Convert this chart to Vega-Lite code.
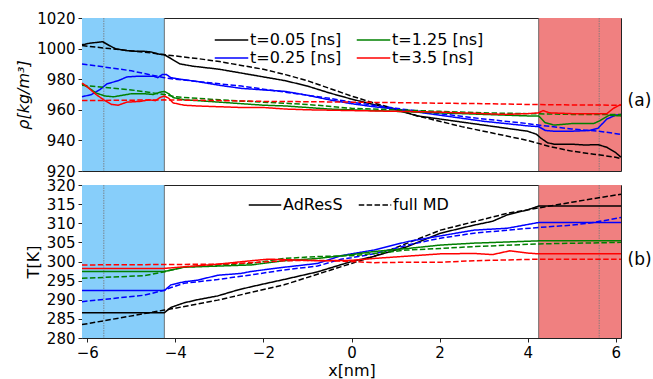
{
  "$schema": "https://vega.github.io/schema/vega-lite/v6.json",
  "background": "white",
  "padding": {"left": 14, "top": 10, "right": 0, "bottom": 0},
  "spacing": 14,
  "bounds": "flush",
  "config": {
    "font": "DejaVu Sans",
    "view": {"stroke": "#222", "strokeWidth": 1},
    "axis": {"grid": false, "domain": false, "labelFont": "DejaVu Sans", "labelFontSize": 15, "labelColor": "black", "tickColor": "#222", "tickSize": 4, "labelPadding": 3, "labelOverlap": false, "labelFlush": false, "titleFont": "DejaVu Sans", "titleFontSize": 16, "titleFontWeight": "normal", "titleColor": "black"},
    "axisY": {"labelOverlap": false},
    "axisQuantitative": {"labelOverlap": false},
    "legend": {"labelFont": "DejaVu Sans", "labelFontSize": 16, "labelColor": "black"}
  },
  "resolve": {"scale": {"x": "independent", "y": "independent", "color": "independent", "strokeDash": "independent"}, "legend": {"color": "independent", "strokeDash": "independent"}},
  "datasets": {
    "rho": [
      {"t":"t=0.05 [ns]","k":"AdResS","x":-6.12,"v":1002.5},{"t":"t=0.05 [ns]","k":"AdResS","x":-5.95,"v":1003.5},{"t":"t=0.05 [ns]","k":"AdResS","x":-5.8,"v":1004},{"t":"t=0.05 [ns]","k":"AdResS","x":-5.65,"v":1004.5},{"t":"t=0.05 [ns]","k":"AdResS","x":-5.5,"v":1002},{"t":"t=0.05 [ns]","k":"AdResS","x":-5.35,"v":999.8},{"t":"t=0.05 [ns]","k":"AdResS","x":-5.1,"v":998.7},{"t":"t=0.05 [ns]","k":"AdResS","x":-4.9,"v":998.3},{"t":"t=0.05 [ns]","k":"AdResS","x":-4.7,"v":998.2},{"t":"t=0.05 [ns]","k":"AdResS","x":-4.55,"v":997.8},{"t":"t=0.05 [ns]","k":"AdResS","x":-4.4,"v":996.5},{"t":"t=0.05 [ns]","k":"AdResS","x":-4.25,"v":996},{"t":"t=0.05 [ns]","k":"AdResS","x":-4.1,"v":993.5},{"t":"t=0.05 [ns]","k":"AdResS","x":-3.9,"v":990},{"t":"t=0.05 [ns]","k":"AdResS","x":-3.6,"v":988.5},{"t":"t=0.05 [ns]","k":"AdResS","x":-3.0,"v":986.5},{"t":"t=0.05 [ns]","k":"AdResS","x":-2.5,"v":984},{"t":"t=0.05 [ns]","k":"AdResS","x":-2.0,"v":981.5},{"t":"t=0.05 [ns]","k":"AdResS","x":-1.5,"v":979},{"t":"t=0.05 [ns]","k":"AdResS","x":-1.0,"v":975.5},{"t":"t=0.05 [ns]","k":"AdResS","x":-0.5,"v":971},{"t":"t=0.05 [ns]","k":"AdResS","x":0,"v":967},{"t":"t=0.05 [ns]","k":"AdResS","x":0.5,"v":963.5},{"t":"t=0.05 [ns]","k":"AdResS","x":1,"v":960},{"t":"t=0.05 [ns]","k":"AdResS","x":1.5,"v":956},{"t":"t=0.05 [ns]","k":"AdResS","x":2,"v":954},{"t":"t=0.05 [ns]","k":"AdResS","x":2.5,"v":952},{"t":"t=0.05 [ns]","k":"AdResS","x":3,"v":950},{"t":"t=0.05 [ns]","k":"AdResS","x":3.5,"v":948},{"t":"t=0.05 [ns]","k":"AdResS","x":4,"v":946},{"t":"t=0.05 [ns]","k":"AdResS","x":4.2,"v":944},{"t":"t=0.05 [ns]","k":"AdResS","x":4.3,"v":941.5},{"t":"t=0.05 [ns]","k":"AdResS","x":4.45,"v":938.5},{"t":"t=0.05 [ns]","k":"AdResS","x":4.6,"v":937.5},{"t":"t=0.05 [ns]","k":"AdResS","x":5.0,"v":937.5},{"t":"t=0.05 [ns]","k":"AdResS","x":5.3,"v":937},{"t":"t=0.05 [ns]","k":"AdResS","x":5.6,"v":937.2},{"t":"t=0.05 [ns]","k":"AdResS","x":5.8,"v":935.5},{"t":"t=0.05 [ns]","k":"AdResS","x":6.0,"v":932},{"t":"t=0.05 [ns]","k":"AdResS","x":6.12,"v":929},
      {"t":"t=0.05 [ns]","k":"full MD","x":-6.12,"v":1002},{"t":"t=0.05 [ns]","k":"full MD","x":-5.5,"v":1000},{"t":"t=0.05 [ns]","k":"full MD","x":-5,"v":998.5},{"t":"t=0.05 [ns]","k":"full MD","x":-4.5,"v":997},{"t":"t=0.05 [ns]","k":"full MD","x":-4.25,"v":996},{"t":"t=0.05 [ns]","k":"full MD","x":-3.5,"v":993.5},{"t":"t=0.05 [ns]","k":"full MD","x":-3,"v":991.5},{"t":"t=0.05 [ns]","k":"full MD","x":-2.5,"v":989},{"t":"t=0.05 [ns]","k":"full MD","x":-2,"v":986.5},{"t":"t=0.05 [ns]","k":"full MD","x":-1.5,"v":983},{"t":"t=0.05 [ns]","k":"full MD","x":-1,"v":979},{"t":"t=0.05 [ns]","k":"full MD","x":-0.5,"v":974},{"t":"t=0.05 [ns]","k":"full MD","x":0,"v":969},{"t":"t=0.05 [ns]","k":"full MD","x":0.5,"v":964.5},{"t":"t=0.05 [ns]","k":"full MD","x":1,"v":960.5},{"t":"t=0.05 [ns]","k":"full MD","x":1.5,"v":956},{"t":"t=0.05 [ns]","k":"full MD","x":2,"v":952.5},{"t":"t=0.05 [ns]","k":"full MD","x":2.5,"v":949},{"t":"t=0.05 [ns]","k":"full MD","x":3,"v":946},{"t":"t=0.05 [ns]","k":"full MD","x":3.5,"v":943},{"t":"t=0.05 [ns]","k":"full MD","x":4,"v":940},{"t":"t=0.05 [ns]","k":"full MD","x":4.5,"v":936},{"t":"t=0.05 [ns]","k":"full MD","x":5,"v":933},{"t":"t=0.05 [ns]","k":"full MD","x":5.5,"v":931},{"t":"t=0.05 [ns]","k":"full MD","x":6,"v":929},{"t":"t=0.05 [ns]","k":"full MD","x":6.12,"v":928},
      {"t":"t=0.25 [ns]","k":"AdResS","x":-6.12,"v":968.5},{"t":"t=0.25 [ns]","k":"AdResS","x":-5.9,"v":970},{"t":"t=0.25 [ns]","k":"AdResS","x":-5.7,"v":973.5},{"t":"t=0.25 [ns]","k":"AdResS","x":-5.55,"v":977},{"t":"t=0.25 [ns]","k":"AdResS","x":-5.3,"v":979},{"t":"t=0.25 [ns]","k":"AdResS","x":-5.1,"v":981.5},{"t":"t=0.25 [ns]","k":"AdResS","x":-4.8,"v":982},{"t":"t=0.25 [ns]","k":"AdResS","x":-4.5,"v":982},{"t":"t=0.25 [ns]","k":"AdResS","x":-4.4,"v":981},{"t":"t=0.25 [ns]","k":"AdResS","x":-4.3,"v":983},{"t":"t=0.25 [ns]","k":"AdResS","x":-4.2,"v":983},{"t":"t=0.25 [ns]","k":"AdResS","x":-4.1,"v":981},{"t":"t=0.25 [ns]","k":"AdResS","x":-3.9,"v":980},{"t":"t=0.25 [ns]","k":"AdResS","x":-3.5,"v":978.5},{"t":"t=0.25 [ns]","k":"AdResS","x":-3,"v":976},{"t":"t=0.25 [ns]","k":"AdResS","x":-2.5,"v":974},{"t":"t=0.25 [ns]","k":"AdResS","x":-2,"v":973},{"t":"t=0.25 [ns]","k":"AdResS","x":-1.5,"v":972},{"t":"t=0.25 [ns]","k":"AdResS","x":-1,"v":969.5},{"t":"t=0.25 [ns]","k":"AdResS","x":-0.5,"v":966.5},{"t":"t=0.25 [ns]","k":"AdResS","x":0,"v":964},{"t":"t=0.25 [ns]","k":"AdResS","x":0.5,"v":962},{"t":"t=0.25 [ns]","k":"AdResS","x":1,"v":960.5},{"t":"t=0.25 [ns]","k":"AdResS","x":1.5,"v":958.5},{"t":"t=0.25 [ns]","k":"AdResS","x":2,"v":956.5},{"t":"t=0.25 [ns]","k":"AdResS","x":2.5,"v":954.5},{"t":"t=0.25 [ns]","k":"AdResS","x":3,"v":952.5},{"t":"t=0.25 [ns]","k":"AdResS","x":3.5,"v":951},{"t":"t=0.25 [ns]","k":"AdResS","x":4,"v":949.5},{"t":"t=0.25 [ns]","k":"AdResS","x":4.25,"v":949},{"t":"t=0.25 [ns]","k":"AdResS","x":4.4,"v":946.5},{"t":"t=0.25 [ns]","k":"AdResS","x":4.6,"v":946},{"t":"t=0.25 [ns]","k":"AdResS","x":5,"v":946},{"t":"t=0.25 [ns]","k":"AdResS","x":5.4,"v":946.5},{"t":"t=0.25 [ns]","k":"AdResS","x":5.6,"v":948},{"t":"t=0.25 [ns]","k":"AdResS","x":5.8,"v":954},{"t":"t=0.25 [ns]","k":"AdResS","x":6.0,"v":956.5},{"t":"t=0.25 [ns]","k":"AdResS","x":6.12,"v":957},
      {"t":"t=0.25 [ns]","k":"full MD","x":-6.12,"v":990},{"t":"t=0.25 [ns]","k":"full MD","x":-5.5,"v":987.5},{"t":"t=0.25 [ns]","k":"full MD","x":-5,"v":985.5},{"t":"t=0.25 [ns]","k":"full MD","x":-4.5,"v":982.5},{"t":"t=0.25 [ns]","k":"full MD","x":-4.25,"v":981},{"t":"t=0.25 [ns]","k":"full MD","x":-4,"v":980},{"t":"t=0.25 [ns]","k":"full MD","x":-3.5,"v":978.5},{"t":"t=0.25 [ns]","k":"full MD","x":-3,"v":977},{"t":"t=0.25 [ns]","k":"full MD","x":-2.5,"v":975.5},{"t":"t=0.25 [ns]","k":"full MD","x":-2,"v":973.5},{"t":"t=0.25 [ns]","k":"full MD","x":-1.5,"v":971.5},{"t":"t=0.25 [ns]","k":"full MD","x":-1,"v":969.5},{"t":"t=0.25 [ns]","k":"full MD","x":-0.5,"v":967.5},{"t":"t=0.25 [ns]","k":"full MD","x":0,"v":965},{"t":"t=0.25 [ns]","k":"full MD","x":1,"v":961},{"t":"t=0.25 [ns]","k":"full MD","x":2,"v":957.5},{"t":"t=0.25 [ns]","k":"full MD","x":3,"v":954},{"t":"t=0.25 [ns]","k":"full MD","x":4,"v":951},{"t":"t=0.25 [ns]","k":"full MD","x":4.25,"v":950},{"t":"t=0.25 [ns]","k":"full MD","x":5,"v":947.5},{"t":"t=0.25 [ns]","k":"full MD","x":5.6,"v":946},{"t":"t=0.25 [ns]","k":"full MD","x":6.12,"v":944},
      {"t":"t=1.25 [ns]","k":"AdResS","x":-6.12,"v":977},{"t":"t=1.25 [ns]","k":"AdResS","x":-6.0,"v":975},{"t":"t=1.25 [ns]","k":"AdResS","x":-5.8,"v":971},{"t":"t=1.25 [ns]","k":"AdResS","x":-5.6,"v":969},{"t":"t=1.25 [ns]","k":"AdResS","x":-5.4,"v":968.5},{"t":"t=1.25 [ns]","k":"AdResS","x":-5.2,"v":969.5},{"t":"t=1.25 [ns]","k":"AdResS","x":-5.0,"v":970.5},{"t":"t=1.25 [ns]","k":"AdResS","x":-4.7,"v":970.5},{"t":"t=1.25 [ns]","k":"AdResS","x":-4.5,"v":970},{"t":"t=1.25 [ns]","k":"AdResS","x":-4.35,"v":971.5},{"t":"t=1.25 [ns]","k":"AdResS","x":-4.25,"v":972},{"t":"t=1.25 [ns]","k":"AdResS","x":-4.15,"v":970.5},{"t":"t=1.25 [ns]","k":"AdResS","x":-4.05,"v":968},{"t":"t=1.25 [ns]","k":"AdResS","x":-3.8,"v":966.5},{"t":"t=1.25 [ns]","k":"AdResS","x":-3.5,"v":966},{"t":"t=1.25 [ns]","k":"AdResS","x":-3,"v":965},{"t":"t=1.25 [ns]","k":"AdResS","x":-2.5,"v":964},{"t":"t=1.25 [ns]","k":"AdResS","x":-2,"v":963},{"t":"t=1.25 [ns]","k":"AdResS","x":-1.5,"v":962.5},{"t":"t=1.25 [ns]","k":"AdResS","x":-1,"v":961.5},{"t":"t=1.25 [ns]","k":"AdResS","x":-0.5,"v":960.5},{"t":"t=1.25 [ns]","k":"AdResS","x":0,"v":960},{"t":"t=1.25 [ns]","k":"AdResS","x":1,"v":959},{"t":"t=1.25 [ns]","k":"AdResS","x":2,"v":958},{"t":"t=1.25 [ns]","k":"AdResS","x":3,"v":957},{"t":"t=1.25 [ns]","k":"AdResS","x":4,"v":956},{"t":"t=1.25 [ns]","k":"AdResS","x":4.25,"v":956},{"t":"t=1.25 [ns]","k":"AdResS","x":4.4,"v":951.5},{"t":"t=1.25 [ns]","k":"AdResS","x":4.6,"v":950},{"t":"t=1.25 [ns]","k":"AdResS","x":5,"v":951},{"t":"t=1.25 [ns]","k":"AdResS","x":5.5,"v":951},{"t":"t=1.25 [ns]","k":"AdResS","x":5.65,"v":953},{"t":"t=1.25 [ns]","k":"AdResS","x":5.85,"v":956.5},{"t":"t=1.25 [ns]","k":"AdResS","x":6.12,"v":956},
      {"t":"t=1.25 [ns]","k":"full MD","x":-6.12,"v":976},{"t":"t=1.25 [ns]","k":"full MD","x":-5,"v":973},{"t":"t=1.25 [ns]","k":"full MD","x":-4.25,"v":970},{"t":"t=1.25 [ns]","k":"full MD","x":-4,"v":968.5},{"t":"t=1.25 [ns]","k":"full MD","x":-3,"v":966.5},{"t":"t=1.25 [ns]","k":"full MD","x":-2,"v":965},{"t":"t=1.25 [ns]","k":"full MD","x":-1,"v":963.5},{"t":"t=1.25 [ns]","k":"full MD","x":0,"v":961},{"t":"t=1.25 [ns]","k":"full MD","x":1,"v":960},{"t":"t=1.25 [ns]","k":"full MD","x":2,"v":959},{"t":"t=1.25 [ns]","k":"full MD","x":3,"v":958},{"t":"t=1.25 [ns]","k":"full MD","x":4,"v":957.5},{"t":"t=1.25 [ns]","k":"full MD","x":5,"v":957},{"t":"t=1.25 [ns]","k":"full MD","x":6.12,"v":957},
      {"t":"t=3.5 [ns]","k":"AdResS","x":-6.12,"v":977.5},{"t":"t=3.5 [ns]","k":"AdResS","x":-6.0,"v":975},{"t":"t=3.5 [ns]","k":"AdResS","x":-5.8,"v":970},{"t":"t=3.5 [ns]","k":"AdResS","x":-5.6,"v":966},{"t":"t=3.5 [ns]","k":"AdResS","x":-5.45,"v":963.5},{"t":"t=3.5 [ns]","k":"AdResS","x":-5.3,"v":963},{"t":"t=3.5 [ns]","k":"AdResS","x":-5.1,"v":965},{"t":"t=3.5 [ns]","k":"AdResS","x":-4.8,"v":965.5},{"t":"t=3.5 [ns]","k":"AdResS","x":-4.6,"v":966.5},{"t":"t=3.5 [ns]","k":"AdResS","x":-4.45,"v":966},{"t":"t=3.5 [ns]","k":"AdResS","x":-4.35,"v":968},{"t":"t=3.5 [ns]","k":"AdResS","x":-4.25,"v":969},{"t":"t=3.5 [ns]","k":"AdResS","x":-4.15,"v":967.5},{"t":"t=3.5 [ns]","k":"AdResS","x":-4.05,"v":964.5},{"t":"t=3.5 [ns]","k":"AdResS","x":-3.8,"v":963},{"t":"t=3.5 [ns]","k":"AdResS","x":-3.5,"v":962.5},{"t":"t=3.5 [ns]","k":"AdResS","x":-3,"v":962},{"t":"t=3.5 [ns]","k":"AdResS","x":-2.5,"v":961.5},{"t":"t=3.5 [ns]","k":"AdResS","x":-2,"v":961.5},{"t":"t=3.5 [ns]","k":"AdResS","x":-1.5,"v":960.5},{"t":"t=3.5 [ns]","k":"AdResS","x":-1,"v":960},{"t":"t=3.5 [ns]","k":"AdResS","x":0,"v":959.5},{"t":"t=3.5 [ns]","k":"AdResS","x":1,"v":959},{"t":"t=3.5 [ns]","k":"AdResS","x":2,"v":958.5},{"t":"t=3.5 [ns]","k":"AdResS","x":3,"v":957.5},{"t":"t=3.5 [ns]","k":"AdResS","x":3.5,"v":957},{"t":"t=3.5 [ns]","k":"AdResS","x":4,"v":957.5},{"t":"t=3.5 [ns]","k":"AdResS","x":4.25,"v":958},{"t":"t=3.5 [ns]","k":"AdResS","x":4.35,"v":959.5},{"t":"t=3.5 [ns]","k":"AdResS","x":4.5,"v":958},{"t":"t=3.5 [ns]","k":"AdResS","x":5,"v":957.5},{"t":"t=3.5 [ns]","k":"AdResS","x":5.5,"v":957.5},{"t":"t=3.5 [ns]","k":"AdResS","x":5.8,"v":957.5},{"t":"t=3.5 [ns]","k":"AdResS","x":5.95,"v":961},{"t":"t=3.5 [ns]","k":"AdResS","x":6.12,"v":963.5},
      {"t":"t=3.5 [ns]","k":"full MD","x":-6.12,"v":966},{"t":"t=3.5 [ns]","k":"full MD","x":-4.25,"v":966.5},{"t":"t=3.5 [ns]","k":"full MD","x":-3,"v":966},{"t":"t=3.5 [ns]","k":"full MD","x":-2,"v":965.5},{"t":"t=3.5 [ns]","k":"full MD","x":-1,"v":965.3},{"t":"t=3.5 [ns]","k":"full MD","x":0,"v":965},{"t":"t=3.5 [ns]","k":"full MD","x":1,"v":964.7},{"t":"t=3.5 [ns]","k":"full MD","x":2,"v":964.3},{"t":"t=3.5 [ns]","k":"full MD","x":3,"v":964},{"t":"t=3.5 [ns]","k":"full MD","x":4,"v":963.5},{"t":"t=3.5 [ns]","k":"full MD","x":5,"v":963.2},{"t":"t=3.5 [ns]","k":"full MD","x":6.12,"v":963}
    ],
    "T": [
      {"t":"t=0.05 [ns]","k":"AdResS","x":-6.12,"v":286.6},{"t":"t=0.05 [ns]","k":"AdResS","x":-4.25,"v":286.6},{"t":"t=0.05 [ns]","k":"AdResS","x":-4.1,"v":288},{"t":"t=0.05 [ns]","k":"AdResS","x":-3.8,"v":289.2},{"t":"t=0.05 [ns]","k":"AdResS","x":-3.5,"v":290},{"t":"t=0.05 [ns]","k":"AdResS","x":-3.04,"v":291},{"t":"t=0.05 [ns]","k":"AdResS","x":-2.6,"v":292.5},{"t":"t=0.05 [ns]","k":"AdResS","x":-2.28,"v":293.4},{"t":"t=0.05 [ns]","k":"AdResS","x":-1.53,"v":295.3},{"t":"t=0.05 [ns]","k":"AdResS","x":-0.77,"v":297.3},{"t":"t=0.05 [ns]","k":"AdResS","x":0,"v":300},{"t":"t=0.05 [ns]","k":"AdResS","x":0.5,"v":301.3},{"t":"t=0.05 [ns]","k":"AdResS","x":1.27,"v":303.9},{"t":"t=0.05 [ns]","k":"AdResS","x":2.02,"v":307.4},{"t":"t=0.05 [ns]","k":"AdResS","x":2.78,"v":309.5},{"t":"t=0.05 [ns]","k":"AdResS","x":3.2,"v":310.5},{"t":"t=0.05 [ns]","k":"AdResS","x":3.54,"v":312.2},{"t":"t=0.05 [ns]","k":"AdResS","x":4,"v":313.5},{"t":"t=0.05 [ns]","k":"AdResS","x":4.25,"v":314.5},{"t":"t=0.05 [ns]","k":"AdResS","x":6.12,"v":314.5},
      {"t":"t=0.05 [ns]","k":"full MD","x":-6.12,"v":283.5},{"t":"t=0.05 [ns]","k":"full MD","x":-4.25,"v":287.3},{"t":"t=0.05 [ns]","k":"full MD","x":-4,"v":287.8},{"t":"t=0.05 [ns]","k":"full MD","x":-3.04,"v":289.9},{"t":"t=0.05 [ns]","k":"full MD","x":-1.53,"v":293.9},{"t":"t=0.05 [ns]","k":"full MD","x":0,"v":299.5},{"t":"t=0.05 [ns]","k":"full MD","x":0.5,"v":301.3},{"t":"t=0.05 [ns]","k":"full MD","x":1.27,"v":304.8},{"t":"t=0.05 [ns]","k":"full MD","x":2.02,"v":308.2},{"t":"t=0.05 [ns]","k":"full MD","x":2.78,"v":310.4},{"t":"t=0.05 [ns]","k":"full MD","x":3.54,"v":312.6},{"t":"t=0.05 [ns]","k":"full MD","x":4.25,"v":314},{"t":"t=0.05 [ns]","k":"full MD","x":5,"v":315.5},{"t":"t=0.05 [ns]","k":"full MD","x":6.12,"v":317.6},
      {"t":"t=0.25 [ns]","k":"AdResS","x":-6.12,"v":292.4},{"t":"t=0.25 [ns]","k":"AdResS","x":-4.25,"v":292.4},{"t":"t=0.25 [ns]","k":"AdResS","x":-4.1,"v":293.9},{"t":"t=0.25 [ns]","k":"AdResS","x":-3.8,"v":294.7},{"t":"t=0.25 [ns]","k":"AdResS","x":-3.5,"v":295.1},{"t":"t=0.25 [ns]","k":"AdResS","x":-3.04,"v":296.4},{"t":"t=0.25 [ns]","k":"AdResS","x":-2.5,"v":296.9},{"t":"t=0.25 [ns]","k":"AdResS","x":-2.28,"v":297.4},{"t":"t=0.25 [ns]","k":"AdResS","x":-1.53,"v":298.5},{"t":"t=0.25 [ns]","k":"AdResS","x":-0.77,"v":299.5},{"t":"t=0.25 [ns]","k":"AdResS","x":-0.24,"v":301.5},{"t":"t=0.25 [ns]","k":"AdResS","x":0,"v":302},{"t":"t=0.25 [ns]","k":"AdResS","x":0.51,"v":303},{"t":"t=0.25 [ns]","k":"AdResS","x":1.27,"v":305.2},{"t":"t=0.25 [ns]","k":"AdResS","x":2.02,"v":306.7},{"t":"t=0.25 [ns]","k":"AdResS","x":2.78,"v":308.2},{"t":"t=0.25 [ns]","k":"AdResS","x":3.54,"v":308.7},{"t":"t=0.25 [ns]","k":"AdResS","x":4.25,"v":310.2},{"t":"t=0.25 [ns]","k":"AdResS","x":6.12,"v":310.2},
      {"t":"t=0.25 [ns]","k":"full MD","x":-6.12,"v":289.5},{"t":"t=0.25 [ns]","k":"full MD","x":-4.7,"v":291.2},{"t":"t=0.25 [ns]","k":"full MD","x":-4.25,"v":292.5},{"t":"t=0.25 [ns]","k":"full MD","x":-4.1,"v":293.2},{"t":"t=0.25 [ns]","k":"full MD","x":-3.8,"v":294.3},{"t":"t=0.25 [ns]","k":"full MD","x":-3.04,"v":295.3},{"t":"t=0.25 [ns]","k":"full MD","x":-2.28,"v":296.5},{"t":"t=0.25 [ns]","k":"full MD","x":-1.53,"v":297.8},{"t":"t=0.25 [ns]","k":"full MD","x":-0.77,"v":298.8},{"t":"t=0.25 [ns]","k":"full MD","x":-0.24,"v":300.6},{"t":"t=0.25 [ns]","k":"full MD","x":0,"v":301},{"t":"t=0.25 [ns]","k":"full MD","x":0.51,"v":302},{"t":"t=0.25 [ns]","k":"full MD","x":1.27,"v":304.3},{"t":"t=0.25 [ns]","k":"full MD","x":2.02,"v":306.1},{"t":"t=0.25 [ns]","k":"full MD","x":2.78,"v":307.4},{"t":"t=0.25 [ns]","k":"full MD","x":3.54,"v":308.2},{"t":"t=0.25 [ns]","k":"full MD","x":4.25,"v":308.9},{"t":"t=0.25 [ns]","k":"full MD","x":5,"v":309.5},{"t":"t=0.25 [ns]","k":"full MD","x":5.5,"v":310.2},{"t":"t=0.25 [ns]","k":"full MD","x":6.12,"v":311.5},
      {"t":"t=1.25 [ns]","k":"AdResS","x":-6.12,"v":297.4},{"t":"t=1.25 [ns]","k":"AdResS","x":-4.25,"v":297.4},{"t":"t=1.25 [ns]","k":"AdResS","x":-3.8,"v":298.5},{"t":"t=1.25 [ns]","k":"AdResS","x":-3.04,"v":298.8},{"t":"t=1.25 [ns]","k":"AdResS","x":-2.28,"v":299.1},{"t":"t=1.25 [ns]","k":"AdResS","x":-1.53,"v":300.2},{"t":"t=1.25 [ns]","k":"AdResS","x":-0.77,"v":300.8},{"t":"t=1.25 [ns]","k":"AdResS","x":0,"v":301.8},{"t":"t=1.25 [ns]","k":"AdResS","x":0.51,"v":302.6},{"t":"t=1.25 [ns]","k":"AdResS","x":1.27,"v":303.4},{"t":"t=1.25 [ns]","k":"AdResS","x":2.02,"v":304.3},{"t":"t=1.25 [ns]","k":"AdResS","x":2.78,"v":304.8},{"t":"t=1.25 [ns]","k":"AdResS","x":4.25,"v":305.4},{"t":"t=1.25 [ns]","k":"AdResS","x":6.12,"v":305.4},
      {"t":"t=1.25 [ns]","k":"full MD","x":-6.12,"v":295.6},{"t":"t=1.25 [ns]","k":"full MD","x":-4.7,"v":296.3},{"t":"t=1.25 [ns]","k":"full MD","x":-4.25,"v":297.3},{"t":"t=1.25 [ns]","k":"full MD","x":-3.8,"v":298.6},{"t":"t=1.25 [ns]","k":"full MD","x":-2.28,"v":299.5},{"t":"t=1.25 [ns]","k":"full MD","x":-1.53,"v":300.8},{"t":"t=1.25 [ns]","k":"full MD","x":-0.77,"v":301.3},{"t":"t=1.25 [ns]","k":"full MD","x":0,"v":301.5},{"t":"t=1.25 [ns]","k":"full MD","x":0.51,"v":302.1},{"t":"t=1.25 [ns]","k":"full MD","x":1.27,"v":303},{"t":"t=1.25 [ns]","k":"full MD","x":2.02,"v":303.4},{"t":"t=1.25 [ns]","k":"full MD","x":2.78,"v":303.9},{"t":"t=1.25 [ns]","k":"full MD","x":4.25,"v":304.6},{"t":"t=1.25 [ns]","k":"full MD","x":6.12,"v":305},
      {"t":"t=3.5 [ns]","k":"AdResS","x":-6.12,"v":298.2},{"t":"t=3.5 [ns]","k":"AdResS","x":-4.25,"v":298.2},{"t":"t=3.5 [ns]","k":"AdResS","x":-3.8,"v":298.6},{"t":"t=3.5 [ns]","k":"AdResS","x":-3.04,"v":299.3},{"t":"t=3.5 [ns]","k":"AdResS","x":-2.28,"v":300.2},{"t":"t=3.5 [ns]","k":"AdResS","x":-1.9,"v":300.6},{"t":"t=3.5 [ns]","k":"AdResS","x":-1.53,"v":300.5},{"t":"t=3.5 [ns]","k":"AdResS","x":-0.77,"v":300.2},{"t":"t=3.5 [ns]","k":"AdResS","x":0,"v":300.3},{"t":"t=3.5 [ns]","k":"AdResS","x":0.51,"v":300.8},{"t":"t=3.5 [ns]","k":"AdResS","x":1.27,"v":301.4},{"t":"t=3.5 [ns]","k":"AdResS","x":2.02,"v":302},{"t":"t=3.5 [ns]","k":"AdResS","x":2.78,"v":302.1},{"t":"t=3.5 [ns]","k":"AdResS","x":3.2,"v":301.8},{"t":"t=3.5 [ns]","k":"AdResS","x":3.6,"v":302.8},{"t":"t=3.5 [ns]","k":"AdResS","x":4.0,"v":302.2},{"t":"t=3.5 [ns]","k":"AdResS","x":4.25,"v":302},{"t":"t=3.5 [ns]","k":"AdResS","x":6.12,"v":302},
      {"t":"t=3.5 [ns]","k":"full MD","x":-6.12,"v":299.1},{"t":"t=3.5 [ns]","k":"full MD","x":-4.25,"v":299.2},{"t":"t=3.5 [ns]","k":"full MD","x":-3.04,"v":299.3},{"t":"t=3.5 [ns]","k":"full MD","x":-2.28,"v":299.7},{"t":"t=3.5 [ns]","k":"full MD","x":-1.53,"v":300.2},{"t":"t=3.5 [ns]","k":"full MD","x":-0.77,"v":300.3},{"t":"t=3.5 [ns]","k":"full MD","x":0,"v":300},{"t":"t=3.5 [ns]","k":"full MD","x":0.51,"v":299.7},{"t":"t=3.5 [ns]","k":"full MD","x":1.27,"v":299.8},{"t":"t=3.5 [ns]","k":"full MD","x":2.02,"v":299.8},{"t":"t=3.5 [ns]","k":"full MD","x":2.78,"v":300.2},{"t":"t=3.5 [ns]","k":"full MD","x":4.25,"v":300.6},{"t":"t=3.5 [ns]","k":"full MD","x":6.12,"v":300.6}
    ],
    "edges": [{"x": -4.25}, {"x": 4.25}],
    "inner": [{"x": -5.625}, {"x": 5.625}],
    "one": [{"n": 1}]
  },
  "vconcat": [
    {
      "width": 539,
      "height": 153,
      "layer": [
        {"data": {"name": "one"}, "mark": {"type": "rect", "color": "#87CEFA"}, "encoding": {"x": {"datum": -6.12, "type": "quantitative", "scale": {"domain": [-6.12, 6.12], "nice": false, "zero": false}, "axis": null}, "x2": {"datum": -4.25}}},
        {"data": {"name": "one"}, "mark": {"type": "rect", "color": "#F08080"}, "encoding": {"x": {"datum": 4.25, "type": "quantitative"}, "x2": {"datum": 6.12}}},
        {"data": {"name": "inner"}, "mark": {"type": "rule", "color": "#777", "strokeWidth": 1, "strokeDash": [1.5, 1], "opacity": 0.8}, "encoding": {"x": {"field": "x", "type": "quantitative"}}},
        {"data": {"name": "edges"}, "mark": {"type": "rule", "color": "#555", "strokeWidth": 1, "opacity": 0.8}, "encoding": {"x": {"field": "x", "type": "quantitative"}}},
        {
          "data": {"name": "rho"},
          "mark": {"type": "line", "strokeWidth": 1.5},
          "encoding": {
            "x": {"field": "x", "type": "quantitative"},
            "y": {"field": "v", "type": "quantitative", "scale": {"domain": [920, 1020], "nice": false, "zero": false}, "axis": {"values": [920, 940, 960, 980, 1000, 1020], "tickCount": 6, "labelOverlap": false, "format": "d", "title": "ρ[kg/m³]", "titleFontStyle": "italic", "titleX": -59, "titleY": 76.5, "titleAlign": "center", "titleBaseline": "middle", "titleAngle": -90}},
            "color": {"field": "t", "type": "nominal", "scale": {"domain": ["t=0.05 [ns]", "t=0.25 [ns]", "t=1.25 [ns]", "t=3.5 [ns]"], "range": ["black", "blue", "green", "red"]}, "legend": {"title": null, "orient": "none", "legendX": 132, "legendY": 13, "columns": 2, "columnPadding": 14, "rowPadding": 0, "clipHeight": 18, "padding": 0, "symbolType": "stroke", "symbolSize": 1122, "symbolStrokeWidth": 1.5, "labelOffset": 1, "labelFontSize": 16}},
            "strokeDash": {"field": "k", "type": "nominal", "scale": {"domain": ["AdResS", "full MD"], "range": [[1, 0], [5.5, 2.4]]}, "legend": null}
          }
        },
        {"data": {"name": "one"}, "mark": {"type": "text", "align": "left", "baseline": "middle", "fontSize": 17, "font": "DejaVu Sans", "color": "black"}, "encoding": {"x": {"datum": 6.27, "type": "quantitative"}, "y": {"datum": 965.5, "type": "quantitative", "axis": {"values": [920, 940, 960, 980, 1000, 1020], "tickCount": 6, "labelOverlap": false, "format": "d", "title": "ρ[kg/m³]", "titleFontStyle": "italic", "titleX": -59, "titleY": 76.5, "titleAlign": "center", "titleBaseline": "middle", "titleAngle": -90}}, "text": {"value": "(a)"}}}
      ]
    },
    {
      "width": 539,
      "height": 153,
      "layer": [
        {"data": {"name": "one"}, "mark": {"type": "rect", "color": "#87CEFA"}, "encoding": {"x": {"datum": -6.12, "type": "quantitative", "scale": {"domain": [-6.12, 6.12], "nice": false, "zero": false}, "axis": {"values": [-6, -4, -2, 0, 2, 4, 6], "labelOverlap": false, "title": "x[nm]", "titlePadding": 2}}, "x2": {"datum": -4.25}}},
        {"data": {"name": "one"}, "mark": {"type": "rect", "color": "#F08080"}, "encoding": {"x": {"datum": 4.25, "type": "quantitative"}, "x2": {"datum": 6.12}}},
        {"data": {"name": "inner"}, "mark": {"type": "rule", "color": "#777", "strokeWidth": 1, "strokeDash": [1.5, 1], "opacity": 0.8}, "encoding": {"x": {"field": "x", "type": "quantitative"}}},
        {"data": {"name": "edges"}, "mark": {"type": "rule", "color": "#555", "strokeWidth": 1, "opacity": 0.8}, "encoding": {"x": {"field": "x", "type": "quantitative"}}},
        {
          "data": {"name": "T"},
          "mark": {"type": "line", "strokeWidth": 1.5},
          "encoding": {
            "x": {"field": "x", "type": "quantitative"},
            "y": {"field": "v", "type": "quantitative", "scale": {"domain": [280, 320], "nice": false, "zero": false}, "axis": {"values": [280, 285, 290, 295, 300, 305, 310, 315, 320], "tickCount": 9, "labelOverlap": false, "title": "T[K]", "titleX": -49, "titleY": 76.5, "titleAlign": "center", "titleBaseline": "middle", "titleAngle": -90}},
            "color": {"field": "t", "type": "nominal", "scale": {"domain": ["t=0.05 [ns]", "t=0.25 [ns]", "t=1.25 [ns]", "t=3.5 [ns]"], "range": ["black", "blue", "green", "red"]}, "legend": null},
            "strokeDash": {"field": "k", "type": "nominal", "scale": {"domain": ["AdResS", "full MD"], "range": [[1, 0], [5.5, 2.4]]}, "legend": {"title": null, "orient": "none", "legendX": 166, "legendY": 10, "direction": "horizontal", "columnPadding": 15, "clipHeight": 20, "padding": 0, "symbolType": "stroke", "symbolSize": 1056, "symbolStrokeWidth": 1.5, "symbolStrokeColor": "black", "labelOffset": 1, "labelFontSize": 16}}
          }
        },
        {"data": {"name": "one"}, "mark": {"type": "text", "align": "left", "baseline": "middle", "fontSize": 17, "font": "DejaVu Sans", "color": "black"}, "encoding": {"x": {"datum": 6.27, "type": "quantitative"}, "y": {"datum": 300.4, "type": "quantitative", "axis": {"values": [280, 285, 290, 295, 300, 305, 310, 315, 320], "tickCount": 9, "labelOverlap": false, "title": "T[K]", "titleX": -49, "titleY": 76.5, "titleAlign": "center", "titleBaseline": "middle", "titleAngle": -90}}, "text": {"value": "(b)"}}}
      ]
    }
  ]
}
